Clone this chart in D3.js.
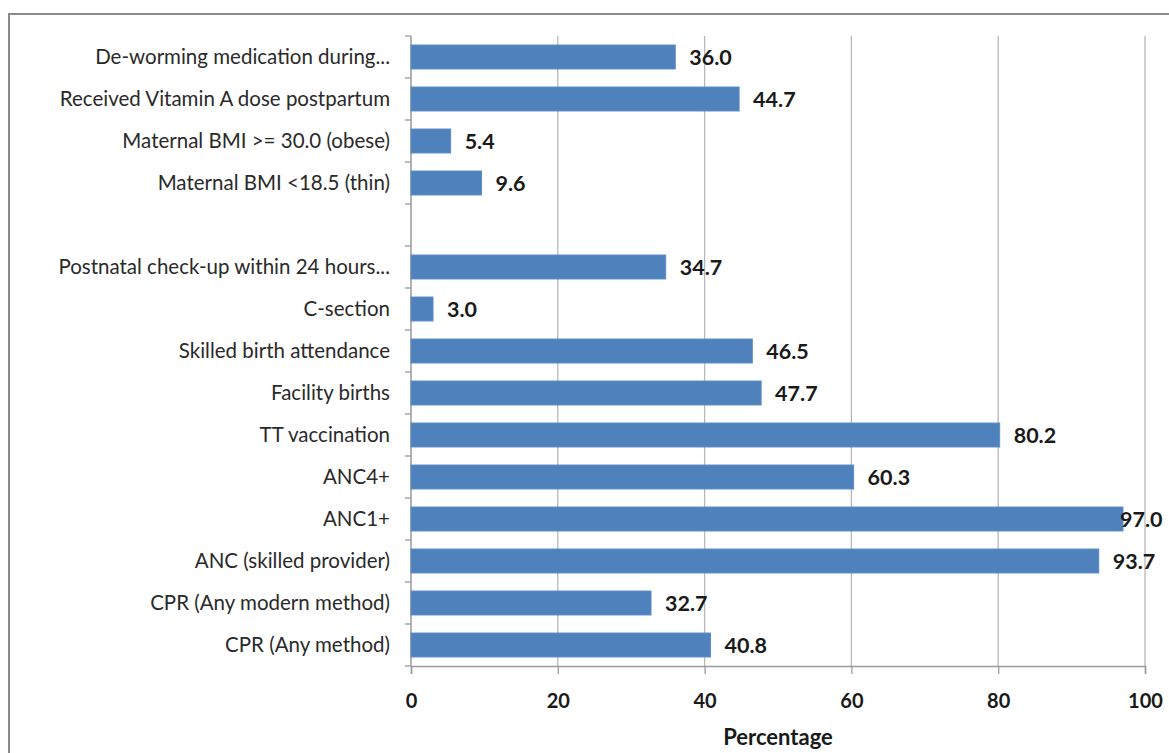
<!DOCTYPE html>
<html>
<head>
<meta charset="utf-8">
<script src="https://cdn.jsdelivr.net/npm/d3@7"></script>
<style>
  body { margin: 0; background: #fff; }
  svg { display: block; font-family: Lato, "Open Sans", sans-serif; }
</style>
</head>
<body>
<div id="chart"></div>
<script>
// categories top to bottom, blank row is a gap in the original
const categories = [
  'De-worming medication during...',
  'Received Vitamin A dose postpartum',
  'Maternal BMI >= 30.0 (obese)',
  'Maternal BMI <18.5 (thin)',
  '',
  'Postnatal check-up within 24 hours...',
  'C-section',
  'Skilled birth attendance',
  'Facility births',
  'TT vaccination',
  'ANC4+',
  'ANC1+',
  'ANC (skilled provider)',
  'CPR (Any modern method)',
  'CPR (Any method)'
]
const values = [36.0, 44.7, 5.4, 9.6, null, 34.7, 3.0, 46.5, 47.7, 80.2, 60.3, 97.0, 93.7, 32.7, 40.8]
const xTicks = [0, 20, 40, 60, 80, 100]

const width = 1169
const height = 753
const plotLeft = 411, plotRight = 1145, plotTop = 36, plotBottom = 666

const svg = d3.select('#chart').append('svg')
  .attr('width', width)
  .attr('height', height)

// outer chart frame
svg.append('rect')
  .attr('x', 9).attr('y', 14)
  .attr('width', width + 20).attr('height', height + 20)
  .attr('fill', 'none')
  .attr('stroke', '#8a8a8a')
  .attr('stroke-width', 2)

const xScale = d3.scaleLinear().domain([0, 100]).range([plotLeft, plotRight])
const yScale = d3.scaleBand().domain(d3.range(categories.length)).range([plotTop, plotBottom]).paddingInner(0.43).paddingOuter(0.215)

// gridlines
svg.append('g')
  .selectAll('line')
  .data(xTicks.slice(1))
  .enter()
  .append('line')
  .attr('x1', d => xScale(d)).attr('x2', d => xScale(d))
  .attr('y1', plotTop).attr('y2', plotBottom)
  .attr('stroke', '#b8b8b8')
  .attr('stroke-width', 1.3)

// x axis
const xAxis = d3.axisBottom(xScale).tickValues(xTicks).tickSize(8).tickPadding(20).tickFormat(d3.format('d'))
const gx = svg.append('g')
  .attr('transform', 'translate(0,' + plotBottom + ')')
  .call(xAxis)
gx.select('.domain').attr('stroke', '#9a9a9a').attr('stroke-width', 1.5)
gx.selectAll('.tick line').attr('stroke', '#9a9a9a').attr('stroke-width', 1.3)
gx.selectAll('.tick text')
  .attr('font-size', 20).attr('font-weight', 'bold').attr('fill', '#1a1a1a')
  .attr('font-family', 'Lato, sans-serif')

// y axis line + ticks at band boundaries
const step = (plotBottom - plotTop) / categories.length
svg.append('line')
  .attr('x1', plotLeft).attr('x2', plotLeft).attr('y1', plotTop).attr('y2', plotBottom)
  .attr('stroke', '#9a9a9a').attr('stroke-width', 1.5)
svg.append('g')
  .selectAll('line')
  .data(d3.range(categories.length + 1))
  .enter()
  .append('line')
  .attr('x1', plotLeft - 6).attr('x2', plotLeft)
  .attr('y1', i => plotTop + i * step).attr('y2', i => plotTop + i * step)
  .attr('stroke', '#9a9a9a').attr('stroke-width', 1.3)

// category labels
svg.append('g')
  .selectAll('text')
  .data(categories)
  .enter()
  .append('text')
  .attr('x', plotLeft - 21)
  .attr('y', (d, i) => yScale(i) + yScale.bandwidth() / 2)
  .attr('dy', '0.35em')
  .attr('text-anchor', 'end')
  .attr('font-size', 20.5)
  .attr('fill', '#2a2a2a')
  .text(d => d)

const rows = values.map((v, i) => ({ v, i })).filter(d => d.v !== null)

// bars
svg.append('g')
  .selectAll('rect')
  .data(rows)
  .enter()
  .append('rect')
  .attr('x', xScale(0))
  .attr('y', d => yScale(d.i))
  .attr('width', d => xScale(d.v) - xScale(0))
  .attr('height', yScale.bandwidth())
  .attr('fill', '#4f81bd')
  .attr('stroke', '#5b8cc8')
  .attr('stroke-width', 1)

// value labels
svg.append('g')
  .selectAll('text')
  .data(rows)
  .enter()
  .append('text')
  .attr('x', d => Math.min(xScale(d.v) + 14, 1120))
  .attr('y', d => yScale(d.i) + yScale.bandwidth() / 2)
  .attr('dy', '0.36em')
  .attr('font-size', 21.5)
  .attr('font-weight', 'bold')
  .attr('fill', '#1a1a1a')
  .text(d => d3.format('.1f')(d.v))

// axis title
svg.append('text')
  .attr('x', 778).attr('y', 745)
  .attr('text-anchor', 'middle')
  .attr('font-size', 22)
  .attr('font-weight', 'bold')
  .attr('fill', '#1a1a1a')
  .text('Percentage')
</script>
</body>
</html>
